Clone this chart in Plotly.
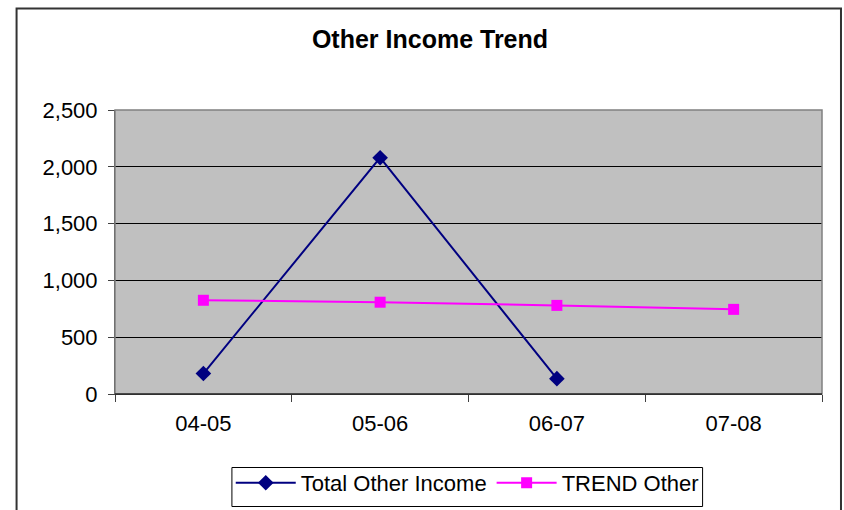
import plotly.graph_objects as go

categories = ["04-05", "05-06", "06-07", "07-08"]
total_other_income = [180, 2080, 135]
trend_other = [825, 808, 780, 745]
y_ticks = [0, 500, 1000, 1500, 2000, 2500]
y_tick_labels = ["0", "500", "1,000", "1,500", "2,000", "2,500"]

FONT = "Liberation Sans, Arial, sans-serif"

fig = go.Figure()
fig.add_trace(go.Scatter(
    x=categories[:len(total_other_income)], y=total_other_income,
    name="Total Other Income", mode="lines+markers",
    line=dict(color="#000080", width=2),
    marker=dict(symbol="diamond", size=12, color="#000080"),
))
fig.add_trace(go.Scatter(
    x=categories, y=trend_other,
    name="TREND Other", mode="lines+markers",
    line=dict(color="#FF00FF", width=2),
    marker=dict(symbol="square", size=11, color="#FF00FF"),
))

W, H = 844, 510
L, T = 115, 110
PR, PB = 822.5, 394
R, B = W - PR, H - PB
pw = PR - L
ph = PB - T

def px_x(p):
    return (p - L) / pw

def px_y(p):
    return (PB - p) / ph

fig.update_layout(
    width=W, height=H,
    margin=dict(l=L, r=R, t=T, b=B, pad=0, autoexpand=False),
    paper_bgcolor="white",
    plot_bgcolor="#C0C0C0",
    font=dict(family=FONT, size=22, color="black"),
    title=dict(text="<b>Other Income Trend</b>", x=430 / W, xanchor="center",
               y=1 - 39 / H, yanchor="middle",
               font=dict(family=FONT, size=25, color="black")),
    showlegend=True,
    legend=dict(orientation="h", x=px_x(467.5), xanchor="center",
                y=px_y(462), yanchor="top",
                borderwidth=0, bgcolor="rgba(0,0,0,0)",
                font=dict(family=FONT, size=22, color="black"),
                itemwidth=60, tracegroupgap=0),
    xaxis=dict(type="category", categoryorder="array", categoryarray=categories,
               range=[-0.5, 3.5], showgrid=False, tickson="boundaries",
               ticks="outside", ticklen=7, tickcolor="#404040", tickwidth=1,
               showline=True, linecolor="black", linewidth=1,
               ticklabelstandoff=10, zeroline=False, fixedrange=True),
    yaxis=dict(range=[0, 2500], tickvals=y_ticks, ticktext=y_tick_labels,
               showgrid=True, gridcolor="black", gridwidth=1,
               ticks="outside", ticklen=6, tickcolor="#404040", tickwidth=1,
               showline=True, linecolor="#404040", linewidth=1,
               ticklabelstandoff=6, zeroline=False, fixedrange=True),
    shapes=[
        dict(type="rect", xref="paper", yref="paper", x0=0, x1=1, y0=0, y1=1,
             line=dict(color="#808080", width=1.5), layer="above"),
        dict(type="line", xref="paper", yref="paper", x0=0, x1=1, y0=0, y1=0,
             line=dict(color="black", width=1), layer="above"),
        dict(type="rect", xref="paper", yref="paper",
             x0=px_x(16.5), x1=px_x(841.5), y0=px_y(530), y1=px_y(8.5),
             line=dict(color="#333333", width=2), layer="above"),
        dict(type="rect", xref="paper", yref="paper",
             x0=px_x(232), x1=px_x(703), y0=px_y(506.5), y1=px_y(467.5),
             line=dict(color="black", width=1), layer="above"),
    ],
)

fig.write_html(
    "out.html",
    config={"displayModeBar": False, "staticPlot": True},
    post_script="document.body.style.margin='0';document.body.style.overflow='hidden';",
)
